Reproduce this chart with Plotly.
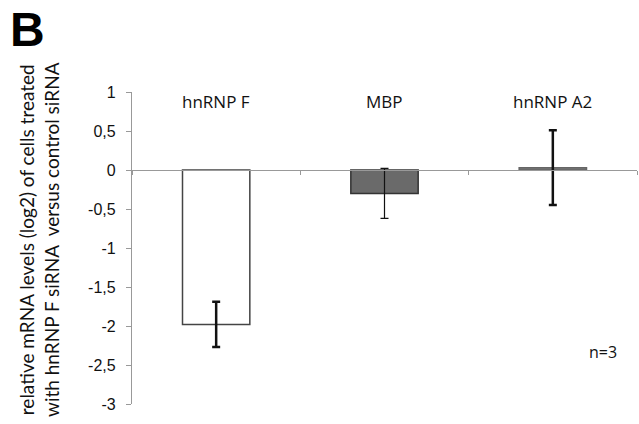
import plotly.graph_objects as go

categories = ["hnRNP F", "MBP", "hnRNP A2"]
values = [-1.98, -0.30, 0.03]
errors = [0.29, 0.32, 0.48]
fill_colors = ["#ffffff", "#6a6a6a", "#7a7a7a"]
line_colors = ["#444444", "#333333", "#666666"]
err_thickness = [2.5, 1.2, 2.5]
y_ticks = [1, 0.5, 0, -0.5, -1, -1.5, -2, -2.5, -3]
y_ticktext = [str(v).replace(".", ",") if v != int(v) else str(int(v)) for v in y_ticks]

W, H = 639, 424
ML, MR, MT, MB = 132, 2, 92, 20
PW, PH = W - ML - MR, H - MT - MB


def px(x):
    return (x - ML) / PW


def py(y):
    return (H - MB - y) / PH


fig = go.Figure()
for i, c in enumerate(categories):
    fig.add_trace(go.Bar(
        x=[c], y=[values[i]], width=0.4,
        marker=dict(color=fill_colors[i], line=dict(color=line_colors[i], width=1.5)),
        error_y=dict(type="data", array=[errors[i]], visible=True,
                     color="#111111", thickness=err_thickness[i], width=4),
        showlegend=False,
    ))

ymin, ymax = -3, 1
fig.update_layout(
    width=W, height=H,
    margin=dict(l=ML, r=MR, t=MT, b=MB),
    paper_bgcolor="white", plot_bgcolor="white",
    barmode="overlay",
    font=dict(family="Liberation Sans, Arial", color="#000"),
    xaxis=dict(type="category", range=[-0.5, 2.5], anchor="free",
               position=(0 - ymin) / (ymax - ymin),
               showline=True, linecolor="#999999", linewidth=1.3,
               ticks="outside", tickson="boundaries", ticklen=4, tickcolor="#999999",
               showticklabels=False, showgrid=False, zeroline=False),
    yaxis=dict(range=[ymin, ymax], tickvals=y_ticks, ticktext=y_ticktext,
               showline=True, linecolor="#999999", linewidth=1.3,
               ticks="outside", ticklen=5, tickcolor="#999999", ticklabelstandoff=7,
               showgrid=False, zeroline=False,
               tickfont=dict(family="Liberation Sans, Arial", size=16, color="#111")),
)

for c in categories:
    fig.add_annotation(x=c, y=1, xref="x", yref="y", yshift=-9, text=c,
                       showarrow=False, font=dict(family="Open Sans", size=17, color="#111"),
                       xanchor="center", yanchor="middle")

fig.add_annotation(x=px(603), y=py(352), xref="paper", yref="paper", text="n=3",
                   showarrow=False, font=dict(family="Open Sans", size=16, color="#111"),
                   xanchor="center", yanchor="middle")

fig.add_annotation(x=px(39), y=py(240), xref="paper", yref="paper",
                   text="relative mRNA levels (log2) of cells treated<br>with hnRNP F siRNA  versus control siRNA",
                   textangle=-90, showarrow=False,
                   font=dict(family="Lato", size=19, color="#111"),
                   xanchor="center", yanchor="middle")

fig.add_annotation(x=px(8), y=py(1), xref="paper", yref="paper", text="<b>B</b>",
                   showarrow=False, font=dict(family="Liberation Sans", size=48, color="#000"),
                   xanchor="left", yanchor="top")

fig.write_html("out.html")
